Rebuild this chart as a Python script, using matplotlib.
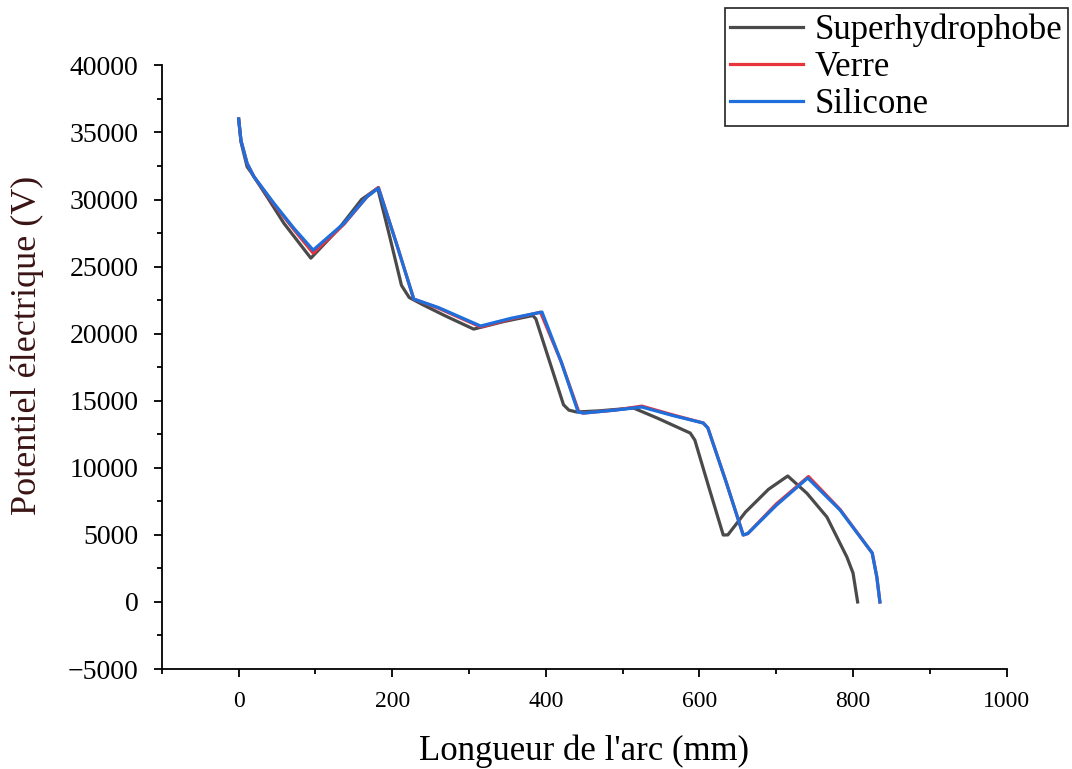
import matplotlib
matplotlib.use("Agg")
import matplotlib.pyplot as plt
from matplotlib.ticker import MultipleLocator

plt.rcParams['font.family'] = ['Liberation Serif', 'DejaVu Serif']

# Superhydrophobe
x_sh = [0, 3, 11, 16, 37, 59, 94, 130, 160, 181, 196, 212, 222, 240, 270, 306, 345, 383, 387,
        423, 430, 440, 470, 514, 545, 588, 594, 612, 631, 637, 660, 690, 715, 740, 766, 792, 800, 806]
y_sh = [36000, 34300, 32440, 32040, 30200, 28220, 25630, 27800, 30000, 30850, 27400, 23600,
        22700, 22150, 21300, 20340, 20900, 21350, 21100, 14700, 14300, 14160, 14250, 14460,
        13710, 12590, 12070, 8600, 4990, 5000, 6700, 8400, 9390, 8100, 6330, 3350, 2160, 0]

# Verre
x_ve = [0, 3, 11, 20, 46, 72, 97, 137, 167, 182, 205, 228, 260, 315, 355, 393, 420,
        443, 449, 490, 525, 565, 605, 611, 635, 657, 663, 700, 742, 783, 825, 831, 835]
y_ve = [36000, 34400, 32690, 31690, 29650, 27750, 26000, 28150, 30200, 30900, 26800, 22580,
        21900, 20500, 21100, 21600, 17900, 14160, 14080, 14300, 14600, 13950, 13340, 12970,
        8900, 4990, 5100, 7300, 9350, 6900, 3650, 1860, 0]

# Silicone
x_si = [0, 3, 11, 20, 46, 72, 97, 137, 167, 182, 205, 228, 260, 315, 355, 395, 420,
        442, 449, 490, 525, 565, 605, 611, 635, 657, 663, 700, 741, 783, 825, 831, 835]
y_si = [36000, 34400, 32690, 31690, 29710, 27850, 26230, 28220, 30200, 30850, 26800, 22580,
        21950, 20570, 21150, 21610, 17900, 14160, 14080, 14300, 14530, 13900, 13340, 12970,
        8900, 4990, 5100, 7200, 9240, 6860, 3650, 1860, 0]

fig = plt.figure(figsize=(10.72, 7.69), dpi=100)
ax = fig.add_axes([0.151, 0.130, 0.788, 0.785])

ax.plot(x_sh, y_sh, color='#4a4a4a', lw=2.3, label='Superhydrophobe')
ax.plot(x_ve, y_ve, color='#e8333d', lw=2.3, label='Verre')
ax.plot(x_si, y_si, color='#1e6fdc', lw=2.3, label='Silicone')

ax.set_xlim(-100, 1000)
ax.set_ylim(-5000, 40000)
ax.xaxis.set_major_locator(MultipleLocator(200))
ax.xaxis.set_minor_locator(MultipleLocator(100))
ax.yaxis.set_major_locator(MultipleLocator(5000))
ax.yaxis.set_minor_locator(MultipleLocator(2500))
ax.tick_params(which='major', direction='out', length=6, width=1.3)
ax.tick_params(which='minor', direction='out', length=3.5, width=1.3)
ax.tick_params(axis='y', labelsize=20, pad=11)
ax.tick_params(axis='x', labelsize=17, pad=10)
for s in ['top', 'right']:
    ax.spines[s].set_visible(False)
for s in ['left', 'bottom']:
    ax.spines[s].set_linewidth(1.3)

ax.set_xlabel("Longueur de l'arc (mm)", fontsize=25, labelpad=16)
ax.set_ylabel("Potentiel électrique (V)", fontsize=26, color='#3a1414')
ax.yaxis.set_label_coords(-0.140, 0.536)

leg = fig.legend(loc='upper right', bbox_to_anchor=(1068/1072, 1 - 8/769),
                 fontsize=25, fancybox=False, edgecolor='#222222', framealpha=1,
                 handlelength=2.1, borderaxespad=0, labelspacing=0.12,
                 borderpad=0.15, handletextpad=0.35)
leg.get_frame().set_linewidth(1.2)

fig.savefig('out.png', dpi=100)
